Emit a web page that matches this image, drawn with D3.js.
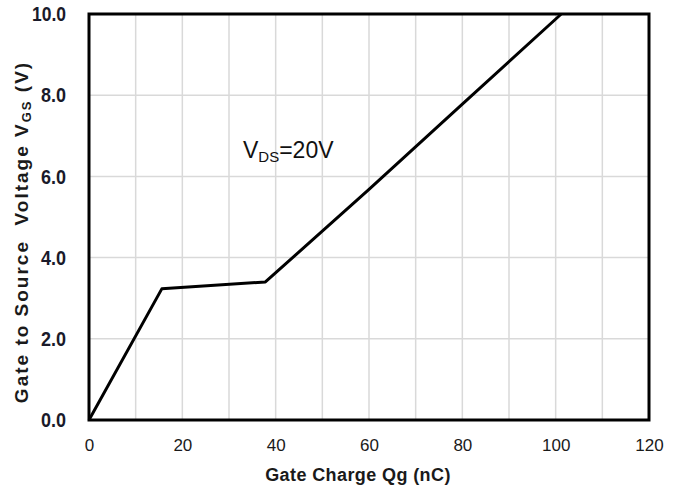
<!DOCTYPE html>
<html><head><meta charset="utf-8">
<script src="https://cdn.jsdelivr.net/npm/d3@7/dist/d3.min.js"></script>
<style>body{margin:0;background:#fff}</style>
</head><body>
<svg id="c" width="680" height="490"></svg>
<script>
const qg = [0, 15.6, 37.8, 60, 80, 101.2];
const vgs = [0, 3.23, 3.40, 5.68, 7.78, 10.0];
const xTicks = [0, 20, 40, 60, 80, 100, 120];
const yTicks = [0, 2, 4, 6, 8, 10];
const xGrid = [10, 20, 30, 40, 50, 60, 70, 80, 90, 100, 110];
const yGrid = [2, 4, 6, 8];

const svg = d3.select("#c");
const L = 89, R = 649, T = 14, B = 420;
const x = d3.scaleLinear().domain([0, 120]).range([L, R]);
const y = d3.scaleLinear().domain([0, 10]).range([B, T]);

svg.append("g").selectAll("line").data(xGrid).join("line")
  .attr("x1", d => x(d)).attr("x2", d => x(d)).attr("y1", T).attr("y2", B)
  .attr("stroke", "#d9d9d9").attr("stroke-width", 1.5);
svg.append("g").selectAll("line").data(yGrid).join("line")
  .attr("y1", d => y(d)).attr("y2", d => y(d)).attr("x1", L).attr("x2", R)
  .attr("stroke", "#d9d9d9").attr("stroke-width", 1.5);

const pts = qg.map((d, i) => [d, vgs[i]]);
svg.append("path").datum(pts)
  .attr("d", d3.line().x(d => x(d[0])).y(d => y(d[1])))
  .attr("fill", "none").attr("stroke", "#000").attr("stroke-width", 3)
  .attr("stroke-linejoin", "round");

svg.append("rect").attr("x", L).attr("y", T).attr("width", R - L).attr("height", B - T)
  .attr("fill", "none").attr("stroke", "#000").attr("stroke-width", 3);

const xa = svg.append("g").attr("transform", `translate(0,${B})`)
  .call(d3.axisBottom(x).tickValues(xTicks).tickSize(0).tickPadding(19).tickFormat(d3.format("d")));
xa.select(".domain").remove();
xa.selectAll("text").attr("font-family", "Liberation Sans, Arial, sans-serif")
  .attr("font-size", 17).attr("fill", "#1a1a1a");

const ya = svg.append("g").attr("transform", `translate(${L},0)`)
  .call(d3.axisLeft(y).tickValues(yTicks).tickSize(0).tickPadding(23).tickFormat(d3.format(".1f")));
ya.select(".domain").remove();
ya.selectAll("text").attr("font-family", "Liberation Sans, Arial, sans-serif")
  .attr("font-size", 21).attr("font-weight", "bold").attr("fill", "#1a1a2a")
  .attr("lengthAdjust", "spacingAndGlyphs")
  .attr("textLength", d => d >= 10 ? 34 : 25);

svg.append("text").attr("x", 358).attr("y", 481).attr("text-anchor", "middle")
  .attr("font-family", "Liberation Sans, Arial, sans-serif").attr("font-size", 18)
  .attr("letter-spacing", 0.4)
  .attr("font-weight", "bold").attr("fill", "#1a1a1a").text("Gate Charge Qg (nC)");

const yl = svg.append("text").attr("transform", "translate(28,232) rotate(-90)")
  .attr("text-anchor", "middle").attr("font-family", "Liberation Sans, Arial, sans-serif")
  .attr("font-size", 19).attr("font-weight", "bold").attr("fill", "#1a1a1a")
  .attr("letter-spacing", 2)
  .attr("xml:space", "preserve");
yl.append("tspan").text("Gate to Source  Voltage V");
yl.append("tspan").attr("font-size", 13).attr("dy", 3).text("GS");
yl.append("tspan").attr("dy", -3).text(" (V)");

const an = svg.append("text").attr("x", 243).attr("y", 158)
  .attr("font-family", "Liberation Sans, Arial, sans-serif").attr("font-size", 23).attr("fill", "#111");
an.append("tspan").text("V");
an.append("tspan").attr("font-size", 15).attr("dy", 4).text("DS");
an.append("tspan").attr("dy", -4).text("=20V");
</script>
</body></html>
